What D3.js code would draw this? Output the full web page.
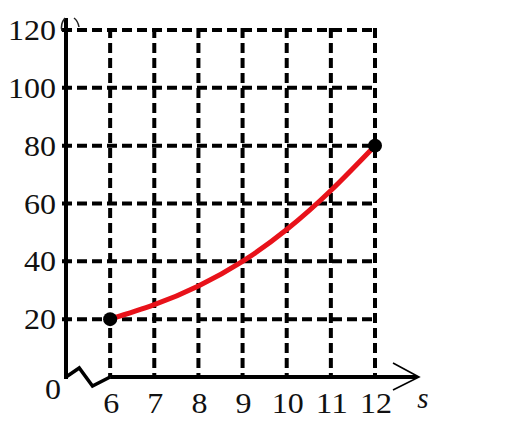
<!doctype html>
<html>
  <head>
    <script src="https://cdnjs.cloudflare.com/ajax/libs/d3/7.8.5/d3.min.js"></script>
    <style>
      body { margin: 0; background: #fff; }
      .grid { stroke: #000; stroke-width: 4; stroke-dasharray: 10,5; }
      .lbl { font-family: "Liberation Serif", "Times New Roman", serif; font-size: 29px; fill: #111; }
    </style>
  </head>
  <body>
    <svg width="531" height="443"></svg>
    <script>
      // values
      var xTicks = [6, 7, 8, 9, 10, 11, 12];
      var yTicks = [20, 40, 60, 80, 100, 120];
      var curveS = [6, 7, 8, 9, 10, 11, 12];
      var curveV = [20, 25, 31.5, 40, 51, 64.5, 80];
      var endPoints = [[6, 20], [12, 80]];

      var svg = d3.select("svg");

      // 5 is where the (broken) vertical axis sits
      var x = d3.scaleLinear().domain([5, 12]).range([66, 375]);
      var y = d3.scaleLinear().domain([0, 120]).range([377, 30]);

      // digits in the picture are a little wider than Liberation Serif
      var digitW = 16;
      function widen(sel) {
        sel.attr("textLength", d => String(d).length * digitW)
           .attr("lengthAdjust", "spacingAndGlyphs");
      }

      // dashed grid
      svg.selectAll("line.h")
        .data(yTicks)
        .enter().append("line")
          .attr("class", "grid")
          .attr("x1", x(5) - 4).attr("x2", x(12) + 2)
          .attr("y1", d => y(d)).attr("y2", d => y(d));

      svg.selectAll("line.v")
        .data(xTicks)
        .enter().append("line")
          .attr("class", "grid")
          .attr("x1", d => x(d)).attr("x2", d => x(d))
          .attr("y1", y(120) - 2).attr("y2", y(0));

      // axes
      svg.append("line")
        .attr("x1", x(5)).attr("x2", x(5))
        .attr("y1", 18).attr("y2", y(0) + 2)
        .style("stroke", "#000").style("stroke-width", 4);

      svg.append("line")
        .attr("x1", x(6)).attr("x2", 417)
        .attr("y1", y(0)).attr("y2", y(0))
        .style("stroke", "#000").style("stroke-width", 4);

      // zigzag break between the axis origin and 6
      svg.append("path")
        .attr("d", d3.line()([[x(5), y(0)], [x(5.3), y(0) - 9], [x(5.6), y(0) + 9], [x(6), y(0)]]))
        .style("fill", "none").style("stroke", "#000").style("stroke-width", 3.5);

      // open arrow head on s axis
      svg.append("path")
        .attr("d", d3.line()([[393, y(0) - 14], [419, y(0)], [393, y(0) + 13]]))
        .style("fill", "none").style("stroke", "#000").style("stroke-width", 1.6);

      // bits of the cut-off label at the top of the vertical axis
      svg.append("path")
        .attr("d", "M62,31 Q60,24 65,18")
        .style("fill", "none").style("stroke", "#222").style("stroke-width", 1.5);
      svg.append("path")
        .attr("d", "M74,18 Q78,21 79,27")
        .style("fill", "none").style("stroke", "#222").style("stroke-width", 1.5);

      // labels
      svg.selectAll("text.y")
        .data(yTicks)
        .enter().append("text")
          .attr("class", "lbl")
          .attr("x", 56)
          .attr("y", d => y(d) + 10)
          .attr("text-anchor", "end")
          .text(d => d)
          .call(widen);

      svg.append("text")
        .datum(0)
        .attr("class", "lbl")
        .attr("x", 53).attr("y", 399)
        .attr("text-anchor", "middle")
        .text("0")
        .call(widen);

      svg.selectAll("text.x")
        .data(xTicks)
        .enter().append("text")
          .attr("class", "lbl")
          .attr("x", d => x(d) + 1)
          .attr("y", 413)
          .attr("text-anchor", "middle")
          .text(d => d)
          .call(widen);

      svg.append("text")
        .attr("class", "lbl")
        .attr("x", 423).attr("y", 408)
        .attr("text-anchor", "middle")
        .style("font-style", "italic")
        .text("s");

      // red curve
      var pts = curveS.map((s, i) => [x(s), y(curveV[i])]);
      svg.append("path")
        .attr("d", d3.line().curve(d3.curveNatural)(pts))
        .style("fill", "none").style("stroke", "#e8121a").style("stroke-width", 5);

      svg.selectAll("circle")
        .data(endPoints)
        .enter().append("circle")
          .attr("cx", d => x(d[0]))
          .attr("cy", d => y(d[1]))
          .attr("r", 7)
          .style("fill", "#000");
    </script>
  </body>
</html>
